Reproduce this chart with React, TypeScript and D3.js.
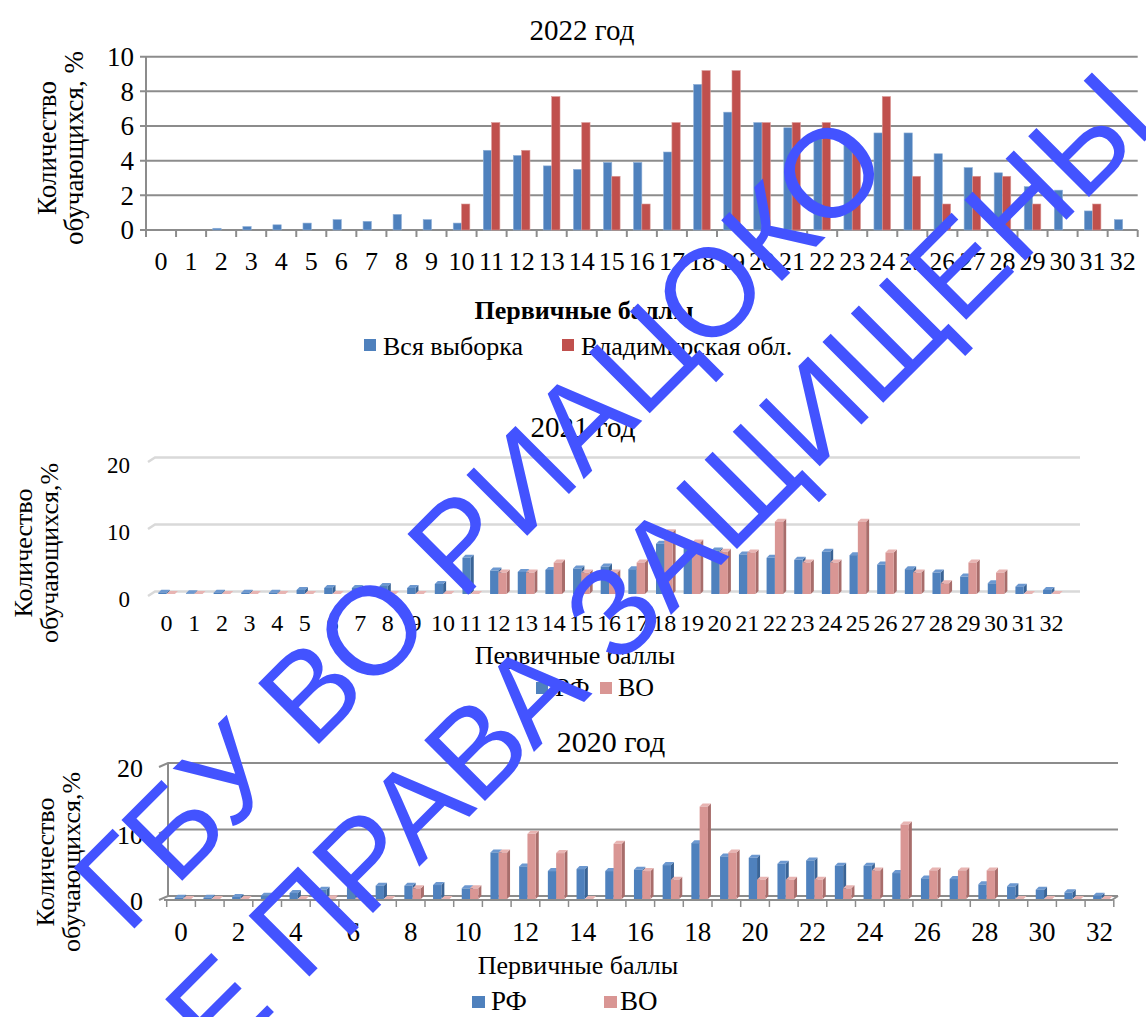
import React from "react";
import * as d3 from "d3";

const scores = ["0","1","2","3","4","5","6","7","8","9","10","11","12","13","14","15","16","17","18","19","20","21","22","23","24","25","26","27","28","29","30","31","32"];
const all2022 = [0,0,0.1,0.2,0.3,0.4,0.6,0.5,0.9,0.6,0.4,4.6,4.3,3.7,3.5,3.9,3.9,4.5,8.4,6.8,6.2,5.9,5.5,5.0,5.6,5.6,4.4,3.6,3.3,2.5,2.3,1.1,0.6];
const vlad2022 = [0,0,0,0,0,0,0,0,0,0,1.5,6.2,4.6,7.7,6.2,3.1,1.5,6.2,9.2,9.2,6.2,6.2,6.2,4.6,7.7,3.1,1.5,3.1,3.1,1.5,0,1.5,0];
const rf2021 = [0.2,0.1,0.2,0.2,0.2,0.6,0.9,0.9,1.2,0.9,1.5,5.4,3.5,3.3,3.6,3.8,4.1,3.7,7.5,7.1,6.5,5.9,5.4,5.1,6.3,5.8,4.4,3.7,3.2,2.6,1.6,1.1,0.6];
const vo2021 = [0,0,0,0,0,0,0,0,0,0,0,0,3.2,3.2,4.7,3.2,3.2,4.7,9.2,7.7,6.3,6.2,10.8,4.7,4.7,10.8,6.2,3.2,1.6,4.7,3.2,0,0];
const rf2020 = [0.2,0.2,0.3,0.5,0.9,1.4,1.8,2.0,2.0,2.1,1.6,7.0,4.9,4.2,4.5,4.2,4.4,5.1,8.4,6.4,6.2,5.3,5.8,5.0,5.0,3.9,3.1,3.0,2.2,1.9,1.4,1.0,0.5];
const vo2020 = [0,0,0,0,0,0.1,0,0,1.6,0,1.6,7.0,9.8,6.9,0,8.3,4.2,2.9,13.9,7.0,2.9,2.9,2.9,1.6,4.3,11.2,4.3,4.3,4.3,0,0,0,0];
const yTicks2022 = [0,2,4,6,8,10];
const yTicks3d = [0,10,20];
const xLabels2020 = ["0","2","4","6","8","10","12","14","16","18","20","22","24","26","28","30","32"];

const FONT = '"Liberation Serif","Times New Roman",serif';
const BLUE = "#4F81BD";
const RED = "#C0504D";
const BLUE_SIDE = "#3A6496";
const BLUE_TOP = "#6C98D0";
const PINK = "#D99694";
const PINK_SIDE = "#A86D6B";
const PINK_TOP = "#E8B4B2";

function YTitle({ cx, cy, size, line2 }: { cx: number; cy: number; size: number; line2: string }) {
  return (
    <g fontFamily={FONT} fontSize={size} fill="#000" textAnchor="middle">
      <text transform={`translate(${cx},${cy}) rotate(-90)`}>Количество</text>
      <text transform={`translate(${cx + size * 1.0},${cy}) rotate(-90)`}>{line2}</text>
    </g>
  );
}

function Chart2022() {
  const x = d3.scaleBand<string>().domain(scores).range([146, 1137.7]);
  const y = d3.scaleLinear().domain([0, 10]).range([230, 56.7]);
  const bw = 8.3;
  const bounds = scores.map((s) => x(s)!).concat([x.range()[1]]);
  return (
    <g>
      <text x={582} y={40} fontFamily={FONT} fontSize={29} textAnchor="middle">2022 год</text>
      {yTicks2022.map((t) => (
        <g key={t}>
          <line x1={140} x2={1137.7} y1={y(t)} y2={y(t)} stroke="#8C8C8C" strokeWidth={2} />
          <text x={134} y={y(t)} dy="0.35em" fontFamily={FONT} fontSize={27} textAnchor="end">{t}</text>
        </g>
      ))}
      <line x1={146} x2={146} y1={y(10)} y2={y(0)} stroke="#8C8C8C" strokeWidth={2} />
      {bounds.map((b, i) => (
        <line key={i} x1={b} x2={b} y1={y(0)} y2={y(0) + 7} stroke="#8C8C8C" strokeWidth={2} />
      ))}
      {scores.map((s, i) => (
        <g key={s}>
          <rect x={x(s)! + x.bandwidth() / 2 - bw} y={y(all2022[i])} width={bw} height={y(0) - y(all2022[i])} fill={BLUE} stroke="#8FB0D8" strokeWidth={0.6} />
          <rect x={x(s)! + x.bandwidth() / 2} y={y(vlad2022[i])} width={bw} height={y(0) - y(vlad2022[i])} fill={RED} stroke="#DA9A98" strokeWidth={0.6} />
          <text x={x(s)! + x.bandwidth() / 2} y={270} fontFamily={FONT} fontSize={26} textAnchor="middle">{s}</text>
        </g>
      ))}
      <YTitle cx={56} cy={148} size={27} line2="обучающихся, %" />
      <text x={584} y={319} fontFamily={FONT} fontSize={26} fontWeight="bold" textAnchor="middle">Первичные баллы</text>
      <rect x={364} y={339} width={12} height={12} fill={BLUE} />
      <text x={383} y={355} fontFamily={FONT} fontSize={26}>Вся выборка</text>
      <rect x={562} y={339} width={12} height={12} fill={RED} />
      <text x={581} y={355} fontFamily={FONT} fontSize={26}>Владимирская обл.</text>
    </g>
  );
}

function Bar3D({ x, y, w, base, d, front, side, top }: any) {
  return (
    <g>
      <polygon points={`${x + w},${y} ${x + w + d},${y - d} ${x + w + d},${base - d} ${x + w},${base}`} fill={side} />
      <polygon points={`${x},${y} ${x + d},${y - d} ${x + w + d},${y - d} ${x + w},${y}`} fill={top} />
      <rect x={x} y={y} width={w} height={base - y} fill={front} />
    </g>
  );
}

function Chart2021() {
  const x = d3.scaleBand<string>().domain(scores).range([152.8, 1065.2]);
  const y = d3.scaleLinear().domain([0, 20]).range([594, 460]);
  const bw = 8.3;
  const d = 3;
  return (
    <g>
      <text x={583} y={437} fontFamily={FONT} fontSize={29} textAnchor="middle">2021 год</text>
      {yTicks3d.map((t) => (
        <g key={t}>
          <polyline points={`148,${y(t) + 2} 155,${y(t) - 2.5} 1080,${y(t) - 2.5}`} fill="none" stroke="#D9D9D9" strokeWidth={2.5} />
          <text x={130} y={y(t) + 5} dy="0.35em" fontFamily={FONT} fontSize={23} textAnchor="end">{t}</text>
        </g>
      ))}
      {scores.map((s, i) => {
        const c = x(s)! + x.bandwidth() / 2;
        return (
          <g key={s}>
            <Bar3D x={c - bw} y={y(rf2021[i])} w={bw} base={y(0)} d={d} front={BLUE} side={BLUE_SIDE} top={BLUE_TOP} />
            <Bar3D x={c} y={y(vo2021[i])} w={bw} base={y(0)} d={d} front={PINK} side={PINK_SIDE} top={PINK_TOP} />
            <text x={c} y={631} fontFamily={FONT} fontSize={24} textAnchor="middle">{s}</text>
          </g>
        );
      })}
      <YTitle cx={32} cy={553} size={26} line2="обучающихся,%" />
      <text x={575} y={664} fontFamily={FONT} fontSize={26} textAnchor="middle">Первичные баллы</text>
      <rect x={536} y={682} width={12} height={12} fill={BLUE} />
      <text x={555} y={696} fontFamily={FONT} fontSize={26}>РФ</text>
      <rect x={600} y={682} width={12} height={12} fill={PINK} />
      <text x={618} y={696} fontFamily={FONT} fontSize={26}>ВО</text>
    </g>
  );
}

function Chart2020() {
  const x = d3.scaleBand<string>().domain(scores).range([166.7, 1113.8]);
  const y = d3.scaleLinear().domain([0, 20]).range([899, 766]);
  const bw = 8.3;
  const d = 3;
  const bounds = scores.map((s) => x(s)!).concat([x.range()[1]]);
  return (
    <g>
      <text x={611} y={752} fontFamily={FONT} fontSize={30} textAnchor="middle">2020 год</text>
      {yTicks3d.map((t) => (
        <g key={t}>
          <polyline points={`159,${y(t) + 1} 168,${y(t) - 3} 1118,${y(t) - 3}`} fill="none" stroke="#8C8C8C" strokeWidth={2} />
          <text x={143} y={y(t) + 2} dy="0.35em" fontFamily={FONT} fontSize={26} textAnchor="end">{t}</text>
        </g>
      ))}
      <line x1={168} x2={168} y1={y(20) - 3} y2={y(0) - 3} stroke="#8C8C8C" strokeWidth={2} />
      <polyline points={`164,${y(0) + 1} 1112,${y(0) + 1} 1118,${y(0) - 3}`} fill="none" stroke="#8C8C8C" strokeWidth={2} />
      {bounds.map((b, i) => (
        <line key={i} x1={b} x2={b} y1={y(0) + 1} y2={y(0) + 8} stroke="#8C8C8C" strokeWidth={1.5} />
      ))}
      {scores.map((s, i) => {
        const c = x(s)! + x.bandwidth() / 2 + 2;
        return (
          <g key={s}>
            <Bar3D x={c - bw} y={y(rf2020[i])} w={bw} base={y(0)} d={d} front={BLUE} side={BLUE_SIDE} top={BLUE_TOP} />
            <Bar3D x={c} y={y(vo2020[i])} w={bw} base={y(0)} d={d} front={PINK} side={PINK_SIDE} top={PINK_TOP} />
          </g>
        );
      })}
      {xLabels2020.map((s) => (
        <text key={s} x={x(s)! + x.bandwidth() / 2} y={941} fontFamily={FONT} fontSize={27} textAnchor="middle">{s}</text>
      ))}
      <YTitle cx={54} cy={862} size={26} line2="обучающихся,%" />
      <text x={578} y={974} fontFamily={FONT} fontSize={26} textAnchor="middle">Первичные баллы</text>
      <rect x={472} y={996} width={13} height={12} fill={BLUE} />
      <text x={491} y={1010} fontFamily={FONT} fontSize={27}>РФ</text>
      <rect x={604} y={996} width={13} height={12} fill={PINK} />
      <text x={620} y={1010} fontFamily={FONT} fontSize={27}>ВО</text>
    </g>
  );
}

function Watermark() {
  const style = { fontFamily: '"Liberation Sans", Arial, sans-serif', fontSize: 125, fill: "#4353FF" };
  return (
    <g style={style as any} textAnchor="end">
      <text transform="translate(894,169) rotate(-45)">ГБУ ВО РИАЦОКО</text>
      <text transform="translate(1160,126) rotate(-45)">ВСЕ ПРАВА ЗАЩИЩЕНЫ</text>
    </g>
  );
}

export default function App() {
  return (
    <svg width={1146} height={1017} style={{ position: "absolute", left: 0, top: 0, background: "#fff" }}>
      <rect width={1146} height={1017} fill="#fff" />
      <Chart2022 />
      <Chart2021 />
      <Chart2020 />
      <Watermark />
    </svg>
  );
}
